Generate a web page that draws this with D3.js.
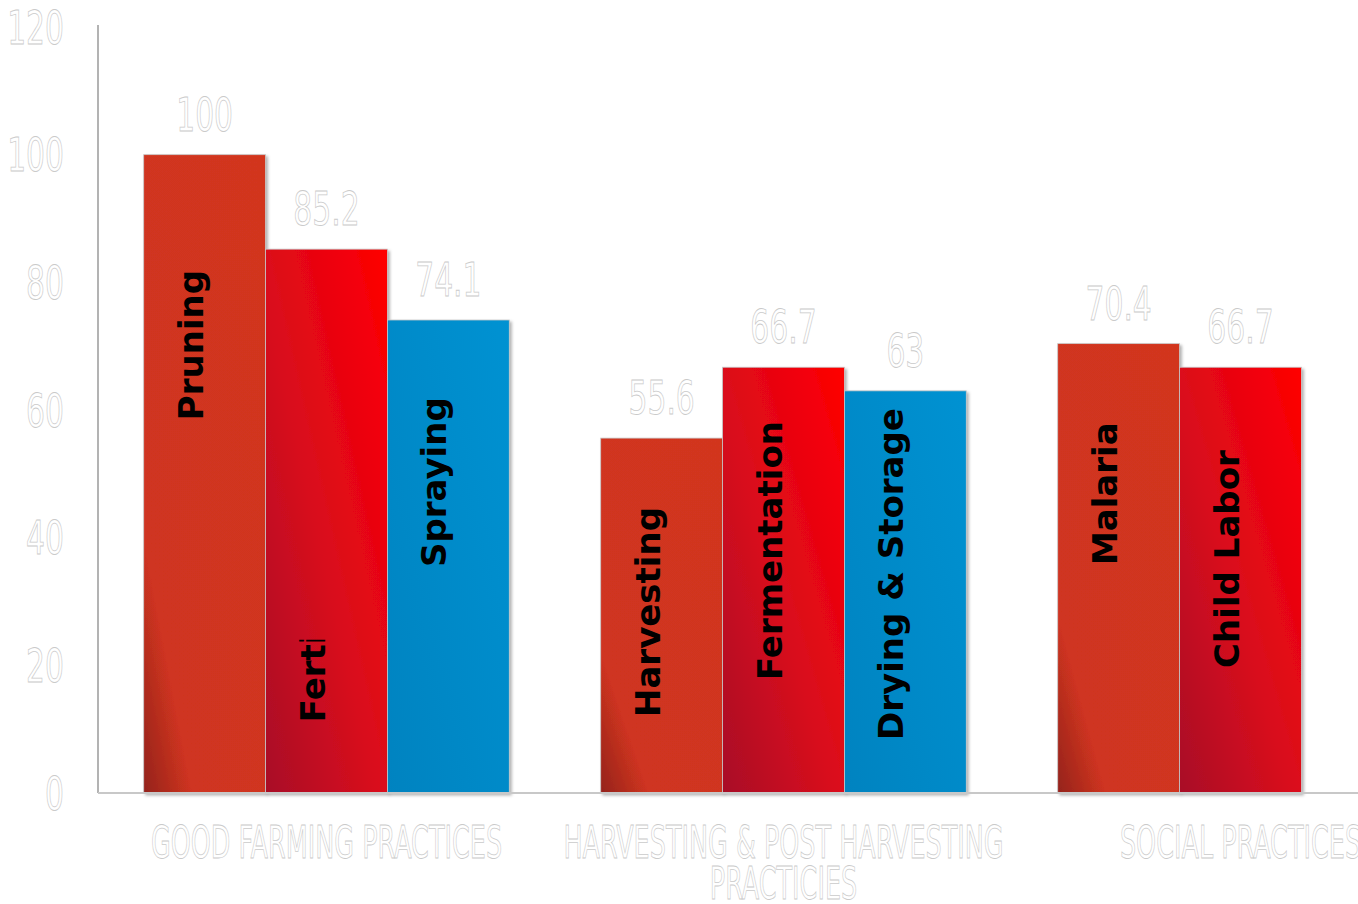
<!DOCTYPE html>
<html>
<head>
<meta charset="utf-8">
<script src="https://cdn.jsdelivr.net/npm/d3@7"></script>
<style>
  body { margin: 0; background: #fff; overflow: hidden; }
  .ghost { fill: #fff; stroke: #cacaca; stroke-width: 0.8; font-family: 'DejaVu Sans Condensed', sans-serif; }
  .inside { fill: #000; font-family: 'DejaVu Sans', Verdana, sans-serif; font-weight: bold; }
</style>
</head>
<body>
<svg width="1358" height="904"></svg>
<script>
// chart values
let categories = ["GOOD FARMING PRACTICES", "HARVESTING & POST HARVESTING PRACTICIES", "SOCIAL PRACTICES"];
let practices = [["Pruning", "Fertilizer", "Spraying"], ["Harvesting", "Fermentation", "Drying & Storage"], ["Malaria", "Child Labor"]];
let scores = [[100, 85.2, 74.1], [55.6, 66.7, 63], [70.4, 66.7]];
// value on the axis where each name inside a bar begins
let nameStart = [[58.4, 11.1, 35.4], [11.9, 17.7, 8.3], [35.7, 19.6]];
// the Fertilizer name is cut off above this value
let cutName = "Fertilizer";
let cutAt = 24;
let yTicks = [0, 20, 40, 60, 80, 100, 120];

let svg = d3.select("svg"),
    width = +svg.attr("width"),
    height = +svg.attr("height");

let y = d3.scaleLinear().domain([0, 120]).range([793, 27]);

// three category bands; the last one runs past the right edge
let x = d3.scaleBand()
    .domain(categories)
    .range([98, 1469])
    .paddingInner(0.2)
    .paddingOuter(0.1);

let slot = d3.scaleBand()
    .domain([0, 1, 2])
    .range([0, x.bandwidth()]);

let rows = [];
categories.forEach(function(c, i) {
  scores[i].forEach(function(v, j) {
    rows.push({cat: c, slot: j, name: practices[i][j], value: v, start: nameStart[i][j]});
  });
});

let defs = svg.append("defs");

// fills for the three bar positions
let fills = [
  [[0, "#94231d"], [0.2, "#cf3420"], [1, "#d2361f"]],
  [[0, "#a80f27"], [0.45, "#d80a1d"], [1, "#ff0000"]],
  [[0, "#0083c0"], [1, "#0092d2"]]
];
fills.forEach(function(stops, k) {
  let grad = defs.append("linearGradient")
      .attr("id", "fill" + k)
      .attr("x1", 0).attr("y1", 1)
      .attr("x2", 1).attr("y2", 0);
  grad.selectAll("stop")
    .data(stops)
    .enter().append("stop")
      .attr("offset", function(d) { return d[0]; })
      .attr("stop-color", function(d) { return d[1]; });
});

let shadow = defs.append("filter")
    .attr("id", "shadow")
    .attr("x", "-10%").attr("y", "-10%")
    .attr("width", "130%").attr("height", "130%");
shadow.append("feDropShadow")
    .attr("dx", 2).attr("dy", 2)
    .attr("stdDeviation", 1.5)
    .attr("flood-color", "#000")
    .attr("flood-opacity", 0.3);

//bars
svg.append("g")
  .selectAll("rect")
  .data(rows)
  .enter().append("rect")
    .attr("x", function(d) { return x(d.cat) + slot(d.slot); })
    .attr("y", function(d) { return y(d.value); })
    .attr("width", slot.bandwidth())
    .attr("height", function(d) { return y(0) - y(d.value); })
    .attr("fill", function(d) { return "url(#fill" + d.slot + ")"; })
    .attr("stroke", "#c8c8c8")
    .attr("stroke-width", 0.8)
    .attr("filter", "url(#shadow)");

//clip for the cut off name
let cutRow = rows.find(function(d) { return d.name == cutName; });
defs.append("clipPath")
    .attr("id", "cut")
  .append("rect")
    .attr("x", x(cutRow.cat) + slot(cutRow.slot))
    .attr("y", y(cutAt))
    .attr("width", slot.bandwidth())
    .attr("height", y(0) - y(cutAt));

//names written up the bars
let names = svg.append("g");
rows.forEach(function(d) {
  let holder = d.name == cutName ? names.append("g").attr("clip-path", "url(#cut)") : names;
  holder.append("text")
      .attr("class", "inside")
      .attr("font-size", 34)
      .attr("transform", "translate(" + (x(d.cat) + slot(d.slot) + slot.bandwidth() / 2 - 2) + "," + y(d.start) + ") rotate(-90)")
      .text(d.name);
});

//value labels above the bars
svg.append("g")
  .selectAll("text")
  .data(rows)
  .enter().append("text")
    .attr("class", "ghost")
    .attr("font-size", 46)
    .attr("text-anchor", "middle")
    .attr("transform", function(d) {
      return "translate(" + (x(d.cat) + slot(d.slot) + slot.bandwidth() / 2) + "," + (y(d.value) - 24) + ") scale(0.72,1)";
    })
    .text(function(d) { return d.value; });

//axes lines
svg.append("line")
    .attr("x1", x.range()[0]).attr("x2", x.range()[0])
    .attr("y1", y(120) - 2).attr("y2", y(0))
    .attr("stroke", "#b3b3b3")
    .attr("stroke-width", 2);

svg.append("line")
    .attr("x1", x.range()[0]).attr("x2", width)
    .attr("y1", y(0)).attr("y2", y(0))
    .attr("stroke", "#c8c8c8")
    .attr("stroke-width", 2);

//tick labels
svg.append("g")
  .selectAll("text")
  .data(yTicks)
  .enter().append("text")
    .attr("class", "ghost")
    .attr("font-size", 46)
    .attr("text-anchor", "end")
    .attr("dy", "0.36em")
    .attr("transform", function(d) { return "translate(64," + y(d) + ") scale(0.72,1)"; })
    .text(function(d) { return d; });

//category labels, wrapped to the band step
let sx = 0.63;
categories.forEach(function(c) {
  let t = svg.append("text")
      .attr("class", "ghost")
      .attr("font-size", 45)
      .attr("text-anchor", "middle")
      .attr("transform", "translate(" + (x(c) + x.bandwidth() / 2) + ",858) scale(" + sx + ",1)");
  let words = c.split(" "), line = [], lineNo = 0;
  let tspan = t.append("tspan").attr("x", 0).attr("y", 0);
  words.forEach(function(w) {
    line.push(w);
    tspan.text(line.join(" "));
    if (tspan.node().getComputedTextLength() * sx > x.step() && line.length > 1) {
      line.pop();
      tspan.text(line.join(" "));
      line = [w];
      lineNo++;
      tspan = t.append("tspan").attr("x", 0).attr("y", lineNo * 41).text(w);
    }
  });
});
</script>
</body>
</html>
